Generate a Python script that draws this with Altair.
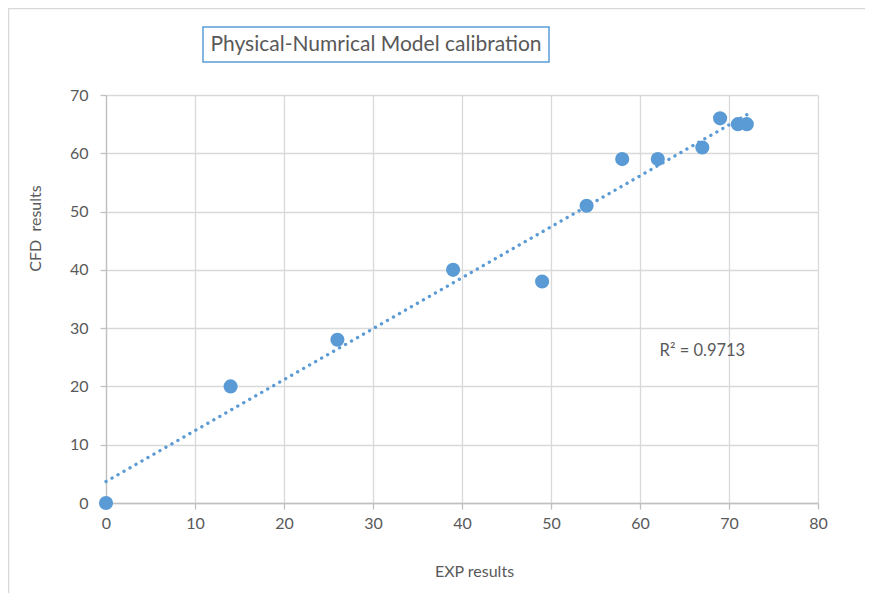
import altair as alt
import pandas as pd

exp_results = [0, 14, 26, 39, 49, 54, 58, 62, 67, 69, 71, 72]
cfd_results = [0, 20, 28, 40, 38, 51, 59, 59, 61, 66, 65, 65]
title_text = "Physical-Numrical Model calibration"
r2_label = "R\u00b2 = 0.9713"
r2_pos_x = [62.2]
r2_pos_y = [26]

df = pd.DataFrame({"x": exp_results, "y": cfd_results})
r2_df = pd.DataFrame({"x": r2_pos_x, "y": r2_pos_y, "t": [r2_label]})

FONT = "Lato"
GRAY = "#595959"
BLUE = "#5b9bd5"

xscale = alt.Scale(domain=[0, 80], nice=False, zero=True)
yscale = alt.Scale(domain=[0, 70], nice=False, zero=True)

xaxis = alt.Axis(
    values=list(range(0, 81, 10)), title="EXP results", grid=True, labelFlush=False,
    gridColor="#d9d9d9", gridWidth=1.3, domainColor="#c0c0c0", domainWidth=1.3,
    tickColor="#c0c0c0", tickSize=6, tickWidth=1.3, labelPadding=6,
    labelFont=FONT, labelFontSize=16, labelColor=GRAY,
    titleFont=FONT, titleFontSize=16, titleColor=GRAY, titleFontWeight="normal",
    titleX=368, titleY=68, titleBaseline="middle", titleAnchor="middle", titleAlign="center",
)
yaxis = alt.Axis(
    values=list(range(0, 71, 10)), title="CFD\u00a0 results", grid=True, labelFlush=False,
    gridColor="#d9d9d9", gridWidth=1.3, domainColor="#c0c0c0", domainWidth=1.3,
    tickColor="#c0c0c0", tickSize=6, tickWidth=1.3, labelPadding=12,
    labelFont=FONT, labelFontSize=16, labelColor=GRAY,
    titleFont=FONT, titleFontSize=16, titleColor=GRAY, titleFontWeight="normal",
    titleX=-71, titleY=133, titleBaseline="middle", titleAngle=-90, titleAlign="center",
)

base = alt.Chart(df)

trend = base.transform_regression("x", "y", extent=[0, 72]).mark_line(
    color=BLUE, strokeWidth=3.3, strokeDash=[0.1, 6.8], strokeCap="round"
).encode(
    x=alt.X("x:Q", scale=xscale, axis=xaxis),
    y=alt.Y("y:Q", scale=yscale, axis=yaxis),
)

points = base.mark_circle(size=200, color=BLUE, opacity=1).encode(
    x=alt.X("x:Q", scale=xscale),
    y=alt.Y("y:Q", scale=yscale),
)

r2 = alt.Chart(r2_df).mark_text(
    align="left", baseline="middle", font=FONT, fontSize=16.5, color=GRAY
).encode(
    x=alt.X("x:Q", scale=xscale),
    y=alt.Y("y:Q", scale=yscale),
    text="t:N",
)

deco = pd.DataFrame({"t": [title_text]})

outer = alt.Chart(deco).mark_rect(
    fill="transparent", stroke="#d9d9d9", strokeWidth=1.5
).encode(
    x=alt.value(-97.5), x2=alt.value(900), y=alt.value(-86.5), y2=alt.value(700)
)

title_box = alt.Chart(deco).mark_rect(
    fill="white", stroke=BLUE, strokeWidth=1.5
).encode(
    x=alt.value(97), x2=alt.value(443), y=alt.value(-68), y2=alt.value(-33)
)

title_txt = alt.Chart(deco).mark_text(
    align="center", baseline="middle", font=FONT, fontSize=21, color=GRAY
).encode(
    x=alt.value(270), y=alt.value(-50), text="t:N"
)

chart = alt.layer(outer, trend, points, r2, title_box, title_txt).properties(
    width=712, height=408,
    autosize=alt.AutoSizeParams(type="none"),
    padding={"left": 98, "top": 87, "right": 47, "bottom": 90},
    background="white",
).configure_view(strokeWidth=0)

chart.save("out.html", embed_options={"renderer": "svg", "actions": False})
